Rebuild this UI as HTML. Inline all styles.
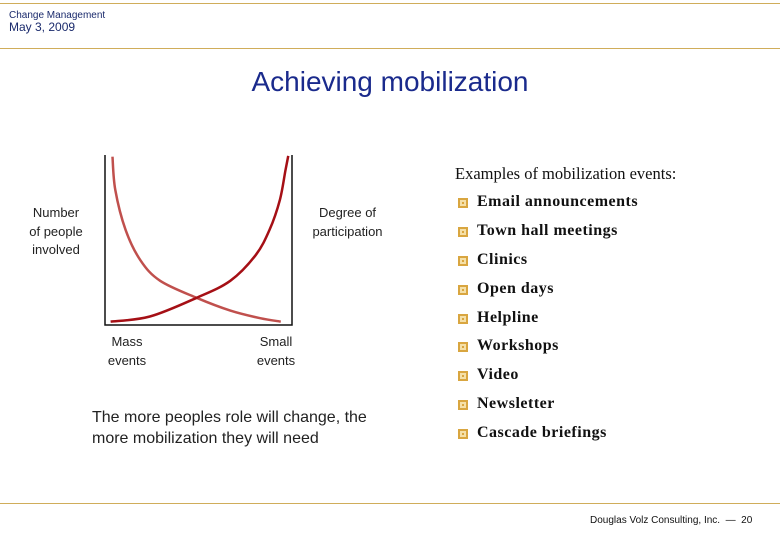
<!DOCTYPE html>
<html><head><meta charset="utf-8"><style>
body{margin:0;width:780px;height:540px;background:#fff;position:relative;font-family:"Liberation Sans",sans-serif;overflow:hidden}
.a{position:absolute}
.gl{position:absolute;left:0;width:780px;height:1px;background:#d0ad5a}
.b{position:absolute;left:457px;font-family:"Liberation Serif",serif;font-weight:bold;font-size:16px;letter-spacing:0.5px;color:#111}
.b:before{content:"";position:absolute;left:1px;top:5px;width:10px;height:10px;background:#d9a640;box-shadow:inset 0 0 0 2px #d9a640,inset 0 0 0 4px #f5e0a8}
.b span{position:absolute;left:20px;white-space:nowrap}
</style></head><body>
<div class="gl" style="top:3px"></div>
<div class="gl" style="top:48px"></div>
<div class="gl" style="top:503px"></div>
<div class="a" style="left:9px;top:10px;font-size:10px;color:#1a2a6c">Change Management</div>
<div class="a" style="left:9px;top:20px;font-size:12px;color:#1a2a6c">May 3, 2009</div>
<div class="a" style="left:0;width:780px;text-align:center;top:66px;font-size:28px;color:#1a2a8c">Achieving mobilization</div>
<svg class="a" style="left:0;top:0" width="780" height="540">
<g id="g"></g>
</svg>
<div class="a" style="left:20px;top:204px;width:72px;text-align:center;font-size:13px;line-height:18.5px;color:#222">Number<br>of people<br>involved</div>
<div class="a" style="left:300px;top:204px;width:95px;text-align:center;font-size:13px;line-height:18.5px;color:#222">Degree of<br>participation</div>
<div class="a" style="left:97px;top:333px;width:60px;text-align:center;font-size:13px;line-height:18.5px;color:#222">Mass<br>events</div>
<div class="a" style="left:246px;top:333px;width:60px;text-align:center;font-size:13px;line-height:18.5px;color:#222">Small<br>events</div>
<div class="a" style="left:92px;top:407px;font-size:16px;line-height:21px;color:#222">The more peoples role will change, the<br>more mobilization they will need</div>
<div class="a" style="left:455px;top:164px;font-family:'Liberation Serif',serif;font-size:16.5px;color:#111">Examples of mobilization events:</div>
<div class="b" style="top:193px"><span>Email announcements</span></div>
<div class="b" style="top:222px"><span>Town hall meetings</span></div>
<div class="b" style="top:251px"><span>Clinics</span></div>
<div class="b" style="top:280px"><span>Open days</span></div>
<div class="b" style="top:309px"><span>Helpline</span></div>
<div class="b" style="top:337px"><span>Workshops</span></div>
<div class="b" style="top:366px"><span>Video</span></div>
<div class="b" style="top:395px"><span>Newsletter</span></div>
<div class="b" style="top:424px"><span>Cascade briefings</span></div>
<div class="a" style="left:590px;top:515px;font-size:10px;color:#111">Douglas Volz Consulting, Inc.&nbsp; — &nbsp;20</div>
<script>
const peopleX=[4,5.5,11,19,29.5,49,67,83,94];
const peopleY=[99,79.5,56,38,26,16,8.5,4,2];
const partX=[3,24,49,67,80.5,88,93.5,96.5,98];
const partY=[2,5,16,26,41,56,73.5,91,99.5];
const X0=105,X1=292,Y0=325,Y1=155;
const sx=v=>X0+(X1-X0)*v/100, sy=v=>Y0-(Y0-Y1)*v/100;
const g=document.getElementById('g');
const NS='http://www.w3.org/2000/svg';
function path(xs,ys){let d='M'+sx(xs[0])+','+sy(ys[0]);
for(let i=1;i<xs.length;i++){const p0=[sx(xs[Math.max(i-2,0)]),sy(ys[Math.max(i-2,0)])],p1=[sx(xs[i-1]),sy(ys[i-1])],p2=[sx(xs[i]),sy(ys[i])],p3=[sx(xs[Math.min(i+1,xs.length-1)]),sy(ys[Math.min(i+1,xs.length-1)])];
d+=` C${p1[0]+(p2[0]-p0[0])/6},${p1[1]+(p2[1]-p0[1])/6} ${p2[0]-(p3[0]-p1[0])/6},${p2[1]-(p3[1]-p1[1])/6} ${p2[0]},${p2[1]}`;}return d;}
const ax=document.createElementNS(NS,'path');


ax.setAttribute('d',`M${X0},${Y1} V${Y0} H${X1} V${Y1}`);
ax.setAttribute('fill','none');ax.setAttribute('stroke','#111');ax.setAttribute('stroke-width','1.5');g.appendChild(ax);
const c1=document.createElementNS(NS,'path');


c1.setAttribute('d',path(peopleX,peopleY));c1.setAttribute('fill','none');c1.setAttribute('stroke','#c0504d');c1.setAttribute('stroke-width','2.5');g.appendChild(c1);
const c2=document.createElementNS(NS,'path');


c2.setAttribute('d',path(partX,partY));c2.setAttribute('fill','none');c2.setAttribute('stroke','#a50f15');c2.setAttribute('stroke-width','2.5');g.appendChild(c2);
</script>
</body></html>
